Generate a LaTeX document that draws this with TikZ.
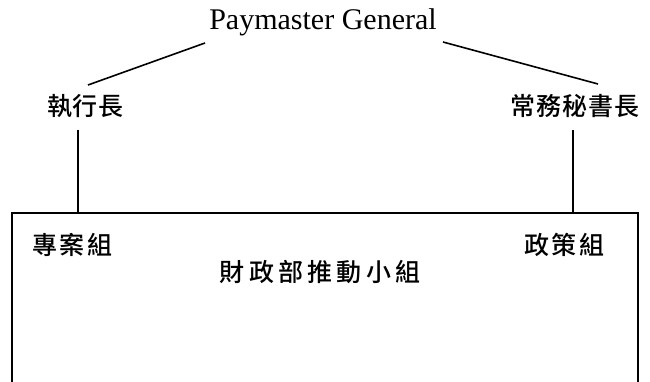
\documentclass[tikz,border=0pt]{standalone}
\usepackage{fontspec}
\setmainfont{Liberation Serif}
\newfontfamily\cjk{Noto Sans CJK TC Medium}
\tikzset{
  lat/.style={font=\fontsize{30}{30}\selectfont, inner sep=0pt},
  cjkt/.style={font=\cjk\fontsize{25}{25}\selectfont\addfontfeature{LetterSpace=#1}, inner sep=0pt},
  conn/.style={line width=1.6pt},
  frame/.style={draw, line width=1.4pt},
}
\begin{document}
\begin{tikzpicture}[x=1pt,y=-1pt]
\useasboundingbox (0,0) rectangle (650,382);
\clip (0,0) rectangle (650,382);
\node[lat] (pg) at (323,22) {Paymaster General};
\node[cjkt=2] (ceo) at (85,106) {執行長};
\node[cjkt=4] (ps) at (575,106) {常務秘書長};
\draw[frame] (12,390) -- (12,213) -- (638,213) -- (638,390);
\coordinate (boxtl) at (78,213);
\coordinate (boxtr) at (573,213);
\node[cjkt=10] (proj) at (72,245) {專案組};
\node[cjkt=10] (pol) at (564,245) {政策組};
\node[cjkt=17] (grp) at (320,272) {財政部推動小組};
\coordinate (pgl) at (205,43);
\coordinate (pgr) at (443,42);
\coordinate (ceot) at (88,85);
\coordinate (pst) at (598,84);
\coordinate (ceob) at (78,130);
\coordinate (psb) at (573,130);
\draw[conn] (pgl) -- (ceot);
\draw[conn] (pgr) -- (pst);
\draw[frame] (ceob) -- (boxtl);
\draw[frame] (psb) -- (boxtr);
\end{tikzpicture}
\end{document}
